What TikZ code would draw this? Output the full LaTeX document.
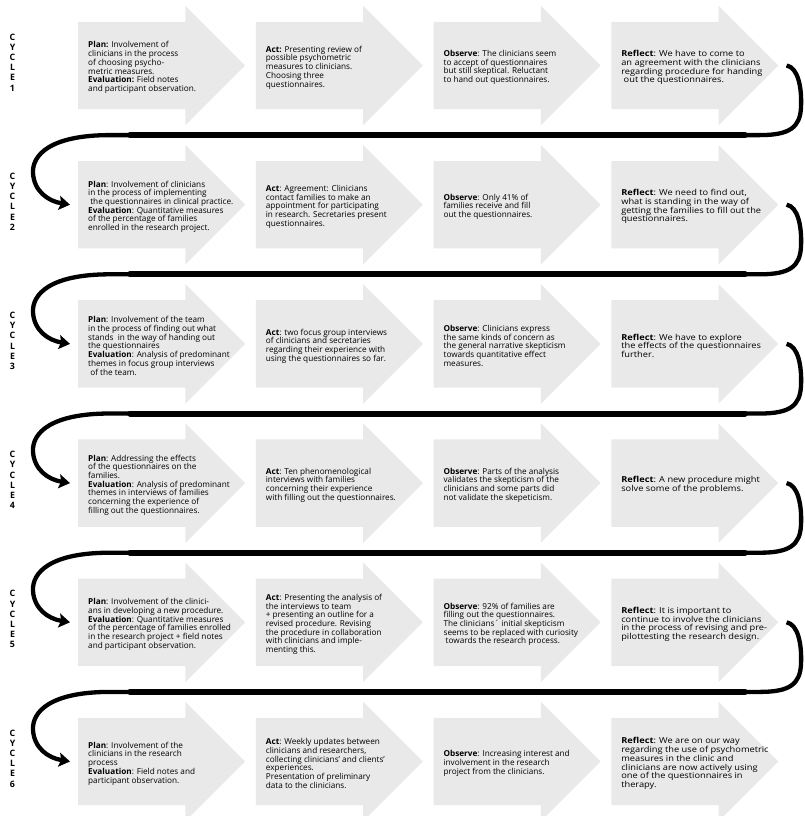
\documentclass[tikz,border=0pt]{standalone}
\usepackage{fontspec}
\setmainfont{Open Sans}
\newfontfamily\widefont{Open Sans}[FakeStretch=1.13]
\usetikzlibrary{shapes.arrows, arrows.meta, positioning}
\definecolor{stagegray}{RGB}{233,233,233}
\tikzstyle{stage} = [single arrow, fill=stagegray, draw=none, anchor=tail, minimum height=167pt, minimum width=0pt, single arrow head extend=16pt, inner xsep=0pt, inner ysep=43.5pt]
\tikzstyle{note} = [align=left, font=\fontsize{8.2}{8.7}\selectfont, inner sep=0pt, yshift=-2pt]
\tikzstyle{widenote} = [note, font=\widefont\fontsize{8.2}{8.7}\selectfont]
\tikzstyle{cycle} = [align=center, font=\fontsize{8.8}{10.2}\selectfont\bfseries, inner sep=0pt]
\tikzstyle{loopline} = [line width=4.3pt, -{Stealth[length=11pt,width=14pt,inset=2pt]}]
\tikzstyle{loopthick} = [line width=6pt, line cap=round]

\begin{document}
\begin{tikzpicture}[x=1pt, y=-1pt]
    \useasboundingbox (0,0) rectangle (805,816);
    % arrows and cycle labels
    \foreach \r in {1,...,6} {
        \pgfmathsetmacro\yc{65.5+139.2*(\r-1)}
        \node (c\r) [cycle] at (12.5,\yc-3) {C\\Y\\C\\L\\E\\\r};
        \foreach \c in {1,...,4} {
            \pgfmathsetmacro\xc{78+177.7*(\c-1)}
            \node (a\r\c) [stage] at (\xc,\yc) {};
        }
    }
    % cycle 1
    \node (t11) [note, right=10pt of a11.tail] {\textbf{Plan:} Involvement of\\clinicians in the process\\of choosing psycho-\\metric measures.\\\textbf{Evaluation:} Field notes\\and participant observation.};
    \node (t12) [note, right=10pt of a12.tail] {\textbf{Act:} Presenting review of\\possible psychometric\\measures to clinicians.\\Choosing three\\questionnaires.};
    \node (t13) [note, right=10pt of a13.tail] {\textbf{Observe}: The clinicians seem\\to accept of questionnaires\\but still skeptical. Reluctant\\to hand out questionnaires.};
    \node (t14) [widenote, right=10pt of a14.tail] {\textbf{Reflect}: We have to come to\\an agreement with the clinicians\\regarding procedure for handing\\\ out the questionnaires.};
    % cycle 2
    \node (t21) [note, right=10pt of a21.tail] {\textbf{Plan}: Involvement of clinicians\\in the process of implementing\\\ the questionnaires in clinical practice.\\\textbf{Evaluation}: Quantitative measures\\of the percentage of families\\enrolled in the research project.};
    \node (t22) [note, right=10pt of a22.tail] {\textbf{Act}: Agreement: Clinicians\\contact families to make an\\appointment for participating\\in research. Secretaries present\\questionnaires.};
    \node (t23) [note, right=10pt of a23.tail] {\textbf{Observe}: Only 41\% of\\families receive and fill\\out the questionnaires.};
    \node (t24) [widenote, right=10pt of a24.tail] {\textbf{Reflect}: We need to find out,\\what is standing in the way of\\getting the families to fill out the\\questionnaires.};
    % cycle 3
    \node (t31) [note, right=10pt of a31.tail] {\textbf{Plan}: Involvement of the team\\in the process of finding out what\\stands \ in the way of handing out\\the questionnaires\\\textbf{Evaluation}: Analysis of predominant\\themes in focus group interviews\\\ of the team.};
    \node (t32) [note, right=10pt of a32.tail] {\textbf{Act}: two focus group interviews\\of clinicians and secretaries\\regarding their experience with\\using the questionnaires so far.};
    \node (t33) [note, right=10pt of a33.tail] {\textbf{Observe}: Clinicians express\\the same kinds of concern as\\the general narrative skepticism\\towards quantitative effect\\measures.};
    \node (t34) [widenote, right=10pt of a34.tail] {\textbf{Reflect}: We have to explore\\the effects of the questionnaires\\further.};
    % cycle 4
    \node (t41) [note, right=10pt of a41.tail] {\textbf{Plan}: Addressing the effects\\of the questionnaires on the\\families.\\\textbf{Evaluation}: Analysis of predominant\\themes in interviews of families\\concerning the experience of\\filling out the questionnaires.};
    \node (t42) [note, right=10pt of a42.tail] {\textbf{Act}: Ten phenomenological\\interviews with families\\concerning their experience\\with filling out the questionnaires.};
    \node (t43) [note, right=10pt of a43.tail] {\textbf{Observe}: Parts of the analysis\\validates the skepticism of the\\clinicians and some parts did\\not validate the skepeticism.};
    \node (t44) [widenote, right=10pt of a44.tail] {\textbf{Reflect}: A new procedure might\\solve some of the problems.};
    % cycle 5
    \node (t51) [note, right=10pt of a51.tail] {\textbf{Plan}: Involvement of the clinici-\\ans in developing a new procedure.\\\textbf{Evaluation}: Quantitative measures\\of the percentage of families enrolled\\in the research project + field notes\\and participant observation.};
    \node (t52) [note, right=10pt of a52.tail] {\textbf{Act}: Presenting the analysis of\\the interviews to team\\+ presenting an outline for a\\revised procedure. Revising\\the procedure in collaboration\\with clinicians and imple-\\menting this.};
    \node (t53) [note, right=10pt of a53.tail] {\textbf{Observe}: 92\% of families are\\filling out the questionnaires.\\The clinicians´ initial skepticism\\seems to be replaced with curiosity\\\ towards the research process.};
    \node (t54) [widenote, right=10pt of a54.tail] {\textbf{Reflect}: It is important to\\continue to involve the clinicians\\in the process of revising and pre-\\pilottesting the research design.};
    % cycle 6
    \node (t61) [note, right=10pt of a61.tail] {\textbf{Plan}: Involvement of the\\clinicians in the research\\process\\\textbf{Evaluation}: Field notes and\\participant observation.};
    \node (t62) [note, right=10pt of a62.tail] {\textbf{Act}: Weekly updates between\\clinicians and researchers,\\collecting clinicians’ and clients’\\experiences.\\Presentation of preliminary\\data to the clinicians.};
    \node (t63) [note, right=10pt of a63.tail] {\textbf{Observe}: Increasing interest and\\involvement in the research\\project from the clinicians.};
    \node (t64) [widenote, right=10pt of a64.tail] {\textbf{Reflect}: We are on our way\\regarding the use of psychometric\\measures in the clinic and\\clinicians are now actively using\\one of the questionnaires in\\therapy.};
    % loops from one cycle to the next
    \foreach \r/\n in {1/2,2/3,3/4,4/5,5/6} {
        \pgfmathsetmacro\yc{65.5+139.2*(\r-1)}
        \pgfmathsetmacro\yh{\yc+69.6}
        \draw [loopline] ([xshift=8pt]a\r4.tip) .. controls (798,\yc+2) and (802,\yc+22) .. (801,\yc+42)
            .. controls (800,\yh-8) and (790,\yh) .. (760,\yh) -- (110,\yh)
            .. controls (50,\yh) and (32,\yh+20) .. (33,\yh+38)
            .. controls (34,\yh+56) and (48,\yh+66) .. ([xshift=-8pt]a\n1.tail);
        \draw [loopthick] (130,\yh) -- (745,\yh);
    }
\end{tikzpicture}
\end{document}
